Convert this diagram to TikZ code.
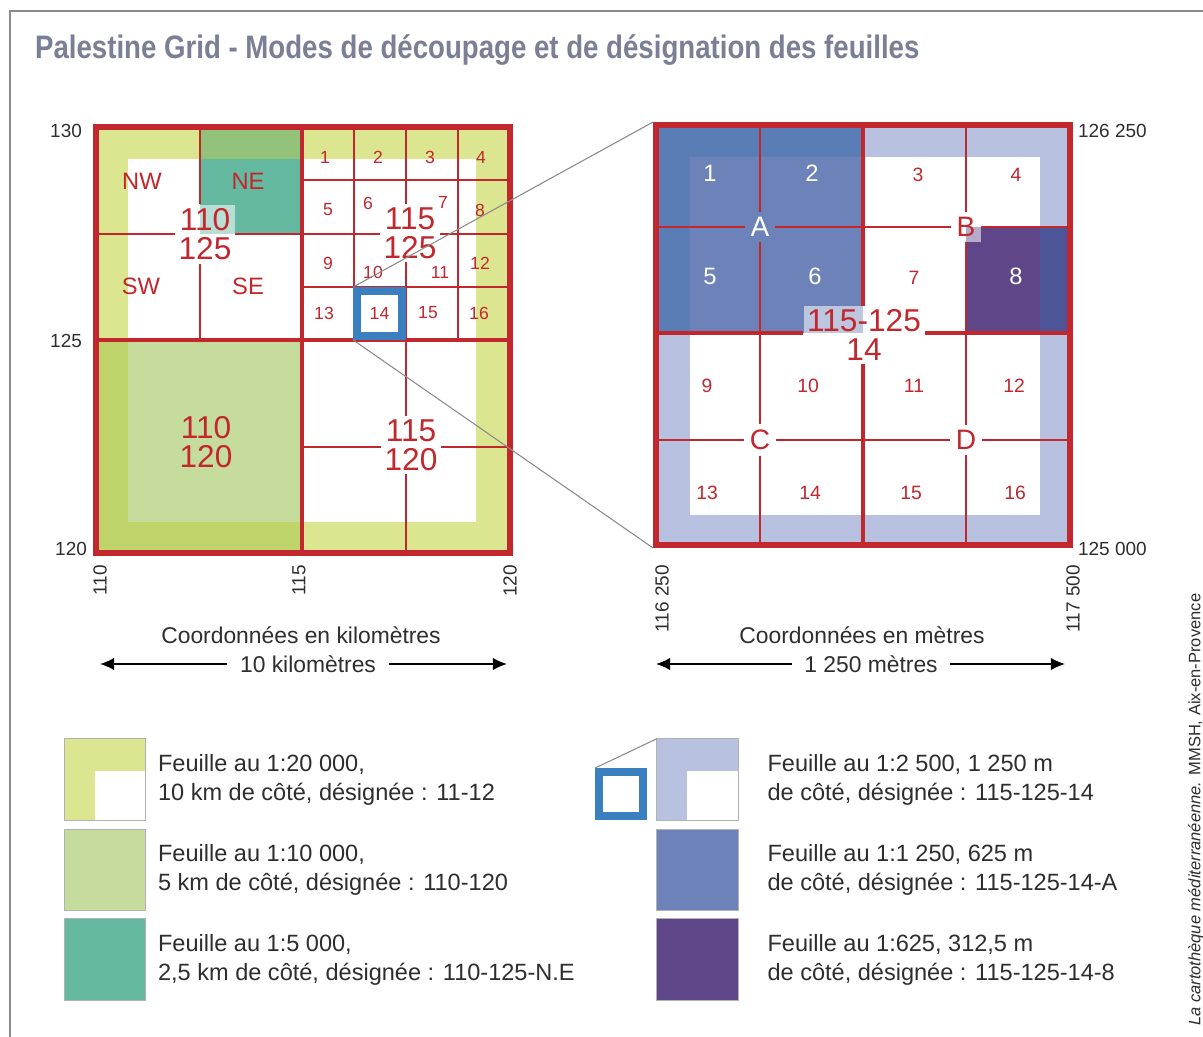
\documentclass[tikz,border=0pt]{standalone}
\usepackage{fontspec}
\setmainfont{Liberation Sans}
\newfontfamily\titlefont{Liberation Sans}[FakeStretch=0.85]
\usetikzlibrary{positioning, arrows.meta}

\definecolor{gridred}{HTML}{C1272D}
\definecolor{frameyel}{HTML}{DCE590}
\definecolor{darkgrn}{HTML}{BFD46B}
\definecolor{lightgrn}{HTML}{C6DC9D}
\definecolor{olivegrn}{HTML}{93C27A}
\definecolor{tealgrn}{HTML}{65B9A0}
\definecolor{lav}{HTML}{B8C2E0}
\definecolor{blueA}{HTML}{5B7DB5}
\definecolor{blueAin}{HTML}{6C82B8}
\definecolor{purp}{HTML}{5F4688}
\definecolor{purpm}{HTML}{4B5597}
\definecolor{boxblue}{HTML}{3A80C0}
\definecolor{titlegray}{HTML}{7A7F96}
\definecolor{txtgray}{HTML}{2E2E2E}
\definecolor{framegray}{HTML}{8A8A8A}

\tikzset{
  thinred/.style={draw=gridred, line width=0.75pt},
  thickred/.style={draw=gridred, line width=2.2pt},
  sqborder/.style={draw=gridred, line width=3.4pt, minimum width=8.28cm, inner sep=0pt},
  veil/.style={fill=white, fill opacity=0.55, text opacity=1},
  bignum/.style={text=gridred, align=center, font=\fontsize{18}{16.5}\selectfont, inner sep=2pt},
  qlabel/.style={text=gridred, font=\fontsize{13.5}{15}\selectfont},
  smallnum/.style={text=gridred, font=\fontsize{10}{12}\selectfont, inner sep=1pt},
  rnum/.style={text=gridred, font=\fontsize{11}{13}\selectfont},
  rnumw/.style={text=white, font=\fontsize{13.5}{15}\selectfont},
  letter/.style={text=gridred, font=\fontsize{16}{18}\selectfont, inner sep=3pt},
  axis/.style={text=txtgray, font=\fontsize{10.8}{12}\selectfont, inner sep=1pt},
  scaletxt/.style={text=txtgray, font=\fontsize{13}{15}\selectfont},
  scalearrow/.style={-{Latex[length=8pt, width=7pt]}, line width=0.8pt, black},
  linkgray/.style={draw=framegray, line width=0.6pt},
  swatch/.style={minimum size=1.63cm, inner sep=0pt, outer sep=0pt, draw=black!30, line width=0.4pt},
  legtext/.style={anchor=west, align=left, inner sep=0pt, text=txtgray, font=\fontsize{13.4}{16.4}\selectfont},
}

\begin{document}
\begin{tikzpicture}[x=0.02cm, y=-0.02cm]
\useasboundingbox[fill=white] (0,0) rectangle (1203,1037);
\draw[framegray, line width=0.6pt] (10,1037) -- (10,11) -- (1203,11);

\node[anchor=west, inner sep=1pt, text=titlegray, font=\titlefont\bfseries\fontsize{18.5}{20}\selectfont] (title) at (33,50)
  {Palestine Grid - Modes de découpage et de désignation des feuilles};

% feuille au 1:20 000 (kilometres)
\fill[frameyel] (96,127) rectangle (510,553);
\fill[white] (128,159) rectangle (476,522);
\fill[darkgrn] (96,340) rectangle (302,553);
\fill[lightgrn] (128,340) rectangle (302,522);
\fill[olivegrn] (200,127) rectangle (302,159);
\fill[tealgrn] (200,159) rectangle (302,234);

\node[bignum, veil] (k110) at (205,234) {110\\125};
\node[bignum, veil] (k115) at (410,233) {115\\125};
\node[bignum] (k120) at (206,442) {110\\120};
\node[bignum, veil] (k115b) at (411,445) {115\\120};

\node[qlabel] (nw) at (142,181) {NW};
\node[qlabel] (ne) at (248,181) {NE};
\node[qlabel] (sw) at (141,286) {SW};
\node[qlabel] (se) at (248,286) {SE};

\node[smallnum] (ln1) at (325,157) {1};
\node[smallnum] (ln2) at (378,157) {2};
\node[smallnum] (ln3) at (430,157) {3};
\node[smallnum] (ln4) at (481,157) {4};
\node[smallnum] (ln5) at (328,210) {5};
\node[smallnum] (ln6) at (368,203) {6};
\node[smallnum] (ln7) at (443,202) {7};
\node[smallnum] (ln8) at (480,210) {8};
\node[smallnum] (ln9) at (328,263) {9};
\node[smallnum] (ln10) at (373,272) {10};
\node[smallnum] (ln11) at (440,272) {11};
\node[smallnum] (ln12) at (480,263) {12};
\node[smallnum] (ln13) at (324,313) {13};
\node[smallnum] (ln15) at (428,313) {15};
\node[smallnum] (ln16) at (479,313) {16};

\coordinate (kv1t) at (200,127);
\coordinate (kv1b) at (200,340);
\coordinate (kv2t) at (406,127);
\coordinate (kv2b) at (406,553);
\coordinate (kh1l) at (96,234);
\coordinate (kh1r) at (510,234);
\coordinate (kh2l) at (302,447);
\coordinate (kh2r) at (510,447);
\draw[thinred] (kv1t) -- (k110.north -| kv1t) (k110.south -| kv1t) -- (kv1b);
\draw[thinred] (kv2t) -- (k115.north -| kv2t) (k115.south -| kv2t) -- (k115b.north -| kv2t)
  (k115b.south -| kv2t) -- (kv2b);
\draw[thinred] (kh1l) -- (k110.west |- kh1l) (k110.east |- kh1l) -- (k115.west |- kh1l)
  (k115.east |- kh1l) -- (kh1r);
\draw[thinred] (kh2l) -- (k115b.west |- kh2l) (k115b.east |- kh2l) -- (kh2r);
\draw[thinred] (354,127) -- (354,340) (458,127) -- (458,340) (302,180) -- (510,180) (302,287) -- (510,287);
\draw[thickred] (302,127) -- (302,553) (96,340) -- (510,340);
\node[sqborder, minimum height=8.52cm] (ksq) at (303,340) {};

\node[draw=boxblue, fill=white, line width=4.5pt, minimum size=0.9cm, inner sep=0pt,
  text=gridred, font=\fontsize{10}{12}\selectfont] (b14) at (379.5,313.5) {14};

% feuille au 1:2 500 (metres)
\fill[lav] (656,125) rectangle (1070,545);
\fill[white] (690,157) rectangle (1040,515);
\fill[blueA] (656,125) rectangle (863,333);
\fill[blueAin] (690,157) rectangle (863,333);
\fill[purpm] (966,227) rectangle (1070,333);
\fill[purp] (966,227) rectangle (1040,333);

\node[bignum, veil] (m14) at (864,335) {115-125\\14};
\node[letter, text=white] (lA) at (760,227) {A};
\node[letter, veil] (lB) at (966,227) {B};
\node[letter] (lC) at (760,440) {C};
\node[letter] (lD) at (966,440) {D};

\node[rnumw] (rn1) at (710,173) {1};
\node[rnumw] (rn2) at (812,173) {2};
\node[rnum] (rn3) at (918,175) {3};
\node[rnum] (rn4) at (1016,175) {4};
\node[rnumw] (rn5) at (710,276) {5};
\node[rnumw] (rn6) at (815,276) {6};
\node[rnum] (rn7) at (914,278) {7};
\node[rnumw] (rn8) at (1016,276) {8};
\node[rnum] (rn9) at (707,386) {9};
\node[rnum] (rn10) at (808,386) {10};
\node[rnum] (rn11) at (914,386) {11};
\node[rnum] (rn12) at (1014,386) {12};
\node[rnum] (rn13) at (707,493) {13};
\node[rnum] (rn14) at (810,493) {14};
\node[rnum] (rn15) at (911,493) {15};
\node[rnum] (rn16) at (1015,493) {16};

\coordinate (mv1t) at (760,125);
\coordinate (mv1b) at (760,545);
\coordinate (mv2t) at (966,125);
\coordinate (mv2b) at (966,545);
\coordinate (mh1l) at (656,227);
\coordinate (mh1r) at (1070,227);
\coordinate (mh2l) at (656,440);
\coordinate (mh2r) at (1070,440);
\coordinate (mvt) at (863,125);
\coordinate (mvb) at (863,545);
\coordinate (mhl) at (656,333);
\coordinate (mhr) at (1070,333);
\draw[thinred] (mv1t) -- (lA.north -| mv1t) (lA.south -| mv1t) -- (lC.north -| mv1t) (lC.south -| mv1t) -- (mv1b);
\draw[thinred] (mv2t) -- (lB.north -| mv2t) (lB.south -| mv2t) -- (lD.north -| mv2t) (lD.south -| mv2t) -- (mv2b);
\draw[thinred] (mh1l) -- (lA.west |- mh1l) (lA.east |- mh1l) -- (lB.west |- mh1l) (lB.east |- mh1l) -- (mh1r);
\draw[thinred] (mh2l) -- (lC.west |- mh2l) (lC.east |- mh2l) -- (lD.west |- mh2l) (lD.east |- mh2l) -- (mh2r);
\draw[thickred] (mvt) -- (m14.north -| mvt) (m14.south -| mvt) -- (mvb);
\draw[thickred] (mhl) -- (m14.west |- mhl) (m14.east |- mhl) -- (mhr);
\node[sqborder, minimum height=8.4cm] (msq) at (863,335) {};

\draw[linkgray] (b14.north west) -- (msq.north west) (b14.south west) -- (msq.south west);

% coordonnees
\node[axis, anchor=east] (y130) at (84,131) {130};
\node[axis, anchor=east] (y125) at (84,341) {125};
\node[axis, anchor=east] (y120) at (89,549) {120};
\node[axis, anchor=east, rotate=90] (x110) at (100,563) {110};
\node[axis, anchor=east, rotate=90] (x115) at (299,563) {115};
\node[axis, anchor=east, rotate=90] (x120) at (510,563) {120};
\node[axis, anchor=west] (m126) at (1076,131) {126 250};
\node[axis, anchor=west] (m125) at (1076,549) {125 000};
\node[axis, anchor=east, rotate=90] (m116) at (662,563) {116 250};
\node[axis, anchor=east, rotate=90] (m117) at (1073,563) {117 500};

\node[scaletxt] (ckm) at (301,635) {Coordonnées en kilomètres};
\node[scaletxt, inner sep=7pt] (dkm) at (308,664) {10 kilomètres};
\coordinate (kmL) at (100,664);
\coordinate (kmR) at (507,664);
\draw[scalearrow] (dkm.west) -- (kmL);
\draw[scalearrow] (dkm.east) -- (kmR);
\node[scaletxt] (cm) at (862,635) {Coordonnées en mètres};
\node[scaletxt, inner sep=7pt] (dm) at (871,664) {1 250 mètres};
\coordinate (mL) at (656,664);
\coordinate (mR) at (1065,664);
\draw[scalearrow] (dm.west) -- (mL);
\draw[scalearrow] (dm.east) -- (mR);

% legende
\node[swatch, fill=frameyel] (s1) at (105,779.5) {};
\fill[white] (95,771) rectangle (s1.south east);
\draw[black!30, line width=0.4pt] (s1.north west) rectangle (s1.south east);
\node[swatch, fill=lightgrn] (s2) at (105,870) {};
\node[swatch, fill=tealgrn] (s3) at (105,959.5) {};
\node[legtext, right=0.24cm of s1] (t1) {Feuille au 1:20 000,\\10 km de côté, désignée : 11-12};
\node[legtext, right=0.24cm of s2] (t2) {Feuille au 1:10 000,\\5 km de côté, désignée : 110-120};
\node[legtext, right=0.24cm of s3] (t3) {Feuille au 1:5 000,\\2,5 km de côté, désignée : 110-125-N.E};

\node[swatch, fill=lav] (r1) at (697.5,779.5) {};
\fill[white] (687,771) rectangle (r1.south east);
\draw[black!30, line width=0.4pt] (r1.north west) rectangle (r1.south east);
\node[draw=boxblue, fill=white, line width=4.5pt, minimum size=0.88cm, inner sep=0pt] (ic) at (621,794) {};
\draw[linkgray] (ic.north west) -- (r1.north west);
\node[swatch, fill=blueAin] (r2) at (697.5,870) {};
\node[swatch, fill=purp] (r3) at (697.5,959.5) {};
\node[legtext, right=0.58cm of r1] (u1) {Feuille au 1:2 500, 1 250 m\\de côté, désignée : 115-125-14};
\node[legtext, right=0.58cm of r2] (u2) {Feuille au 1:1 250, 625 m\\de côté, désignée : 115-125-14-A};
\node[legtext, right=0.58cm of r3] (u3) {Feuille au 1:625, 312,5 m\\de côté, désignée : 115-125-14-8};

\node[rotate=90, anchor=west, text=txtgray, font=\fontsize{9.4}{10}\selectfont] (credit) at (1196,1032)
  {\textit{La cartothèque méditerranéenne.} MMSH, Aix-en-Provence};
\end{tikzpicture}
\end{document}
